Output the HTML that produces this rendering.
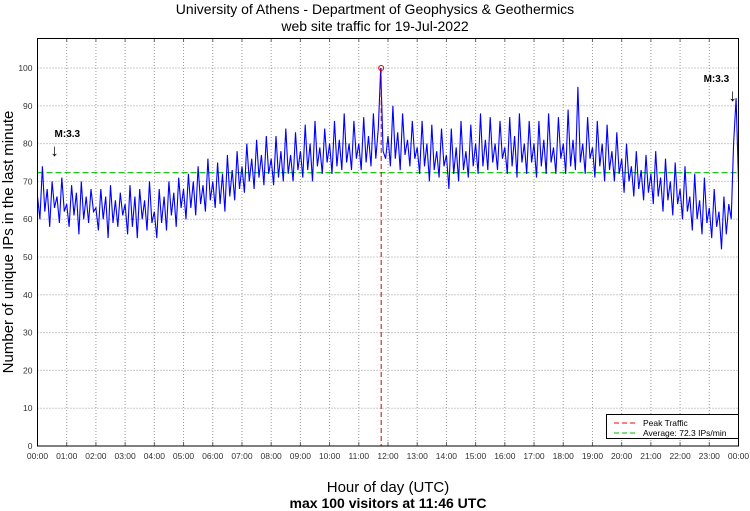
<!DOCTYPE html>
<html><head><meta charset="utf-8"><style>
body{margin:0;background:#fff;}
svg{display:block;font-family:"Liberation Sans",sans-serif;}
</style></head><body>
<svg id="chart" width="750" height="511" viewBox="0 0 750 511">
<text x="375" y="14" text-anchor="middle" font-size="14">University of Athens - Department of Geophysics &amp; Geothermics</text>
<text x="375" y="31" text-anchor="middle" font-size="14">web site traffic for 19-Jul-2022</text>
<text x="388" y="492" text-anchor="middle" font-size="15">Hour of day (UTC)</text>
<text x="388" y="508" text-anchor="middle" font-size="14" font-weight="bold">max 100 visitors at 11:46 UTC</text>
<text transform="translate(13,242) rotate(-90)" text-anchor="middle" font-size="15">Number of unique IPs in the last minute</text>
<g id="grid"></g>
<g id="marks"></g>
<rect x="37.5" y="38.5" width="701" height="407.5" fill="none" stroke="#000" stroke-width="1"/>
<g>
<rect x="606.5" y="414.5" width="132" height="24" fill="#fff" stroke="#000"/>
<line x1="614" y1="423" x2="638" y2="423" stroke="#f00" stroke-dasharray="5,3"/>
<text x="643" y="426" font-size="8.5">Peak Traffic</text>
<line x1="614" y1="433" x2="638" y2="433" stroke="#0b0" stroke-dasharray="5,3"/>
<text x="643" y="436" font-size="8.5">Average: 72.3 IPs/min</text>
</g>
</svg>
<script>
const hourLabels=["00:00","01:00","02:00","03:00","04:00","05:00","06:00","07:00","08:00","09:00","10:00","11:00","12:00","13:00","14:00","15:00","16:00","17:00","18:00","19:00","20:00","21:00","22:00","23:00","00:00"];
const yTicks=[0,10,20,30,40,50,60,70,80,90,100];
const visitors=[
66,60,74,62,68,58,70,63,66,59,71,62,
64,58,69,61,67,56,70,60,66,59,68,62,
63,57,68,60,66,55,69,59,65,58,67,61,
64,56,69,58,66,55,68,60,65,57,70,59,
62,55,68,59,66,57,70,61,67,58,71,63,
68,60,72,63,70,61,74,64,69,62,76,65,
70,63,75,64,72,62,77,66,73,65,78,68,
74,67,80,70,76,68,81,71,77,69,82,72,
76,69,82,71,78,70,84,72,77,70,83,73,
78,71,85,73,80,70,86,74,79,72,84,75,
80,72,86,74,81,73,88,75,80,73,86,76,
80,73,87,75,82,74,88,76,84,100,78,76,
82,74,90,76,83,73,88,77,81,74,86,76,
79,72,86,74,80,70,85,73,78,71,84,74,
77,68,84,72,79,70,86,73,78,71,85,74,
80,72,88,74,81,73,87,75,80,73,86,76,
79,72,87,74,82,71,88,75,80,72,86,75,
80,71,86,74,81,72,88,75,79,72,87,76,
80,72,89,74,81,73,95,75,80,72,87,76,
79,71,86,74,80,70,85,73,78,70,83,72,
76,67,80,70,74,66,78,68,73,65,77,67,
72,64,78,66,71,62,76,65,70,61,75,64,
68,60,74,62,66,57,72,60,65,56,71,59,
63,55,68,58,62,52,66,56,64,60,80,92,70];
const stepMinutes=5;
const averageValue=72.3;
const peakMinute=706;
const peakValue=100;
const quakeMarks=[{minute:35,label:"M:3.3"},{minute:1395,label:"M:3.3",right:true}];

const NS="http://www.w3.org/2000/svg";
const X0=37.5,X1=738.5,Y0=446,YPER=3.78;
const xs=m=>X0+(X1-X0)*m/1440;
const ys=v=>Y0-v*YPER;
function el(t,a,p){const e=document.createElementNS(NS,t);for(const k in a)e.setAttribute(k,a[k]);p.appendChild(e);return e;}
const grid=document.getElementById('grid'),marks=document.getElementById('marks');
yTicks.forEach(v=>{
  const y=ys(v);
  if(v>0){const g=el('line',{x1:X0,x2:X1,y1:y,y2:y,stroke:'#999','stroke-dasharray':'1,2'},grid);
  
  }
  const t=el('text',{x:X0-5,y:y+3,'text-anchor':'end','font-size':'8.5',fill:'#333'},grid);
  
  
  t.textContent=v;
});
hourLabels.forEach((h,i)=>{
  const x=xs(i*60);
  if(i>0&&i<24){const g=el('line',{x1:x,x2:x,y1:38,y2:Y0,stroke:'#999','stroke-dasharray':'1,2'},grid);
  
  
  el('line',{x1:x,x2:x,y1:38,y2:42,stroke:'#666'},grid);
  el('line',{x1:x,x2:x,y1:Y0-4,y2:Y0,stroke:'#666'},grid);}
  const t=el('text',{x:x,y:459,'text-anchor':'middle','font-size':'8.5',fill:'#333'},grid);
  
  
  t.textContent=h;
});
const avg=el('line',{x1:X0,x2:X1,y1:ys(averageValue),y2:ys(averageValue),stroke:'#0b0','stroke-width':1.2,'stroke-dasharray':'6,3'},marks);


const pts=visitors.map((v,i)=>xs(i*stepMinutes).toFixed(1)+','+ys(v).toFixed(1)).join(' ');
const line=el('polyline',{points:pts,fill:'none',stroke:'#00f','stroke-width':1.1},marks);


const pk=el('line',{x1:xs(peakMinute),x2:xs(peakMinute),y1:ys(peakValue),y2:Y0,stroke:'#d00','stroke-dasharray':'5,3'},marks);


const pc=el('circle',{cx:xs(peakMinute),cy:ys(peakValue),r:2.5,fill:'none',stroke:'#d00'},marks);


quakeMarks.forEach(q=>{
  const x=xs(q.minute);
  const y=q.right?82:137;
  const t=el('text',{x:q.right?x-13:x,y:y,'font-size':'10','font-weight':'bold'},marks);
  
  
  t.textContent=q.label;
  const a=el('text',{x:q.right?x+16:x,y:y+19,'font-size':'17','text-anchor':'middle'},marks);
  
  
  a.textContent='↓';
});
</script>
</body></html>
